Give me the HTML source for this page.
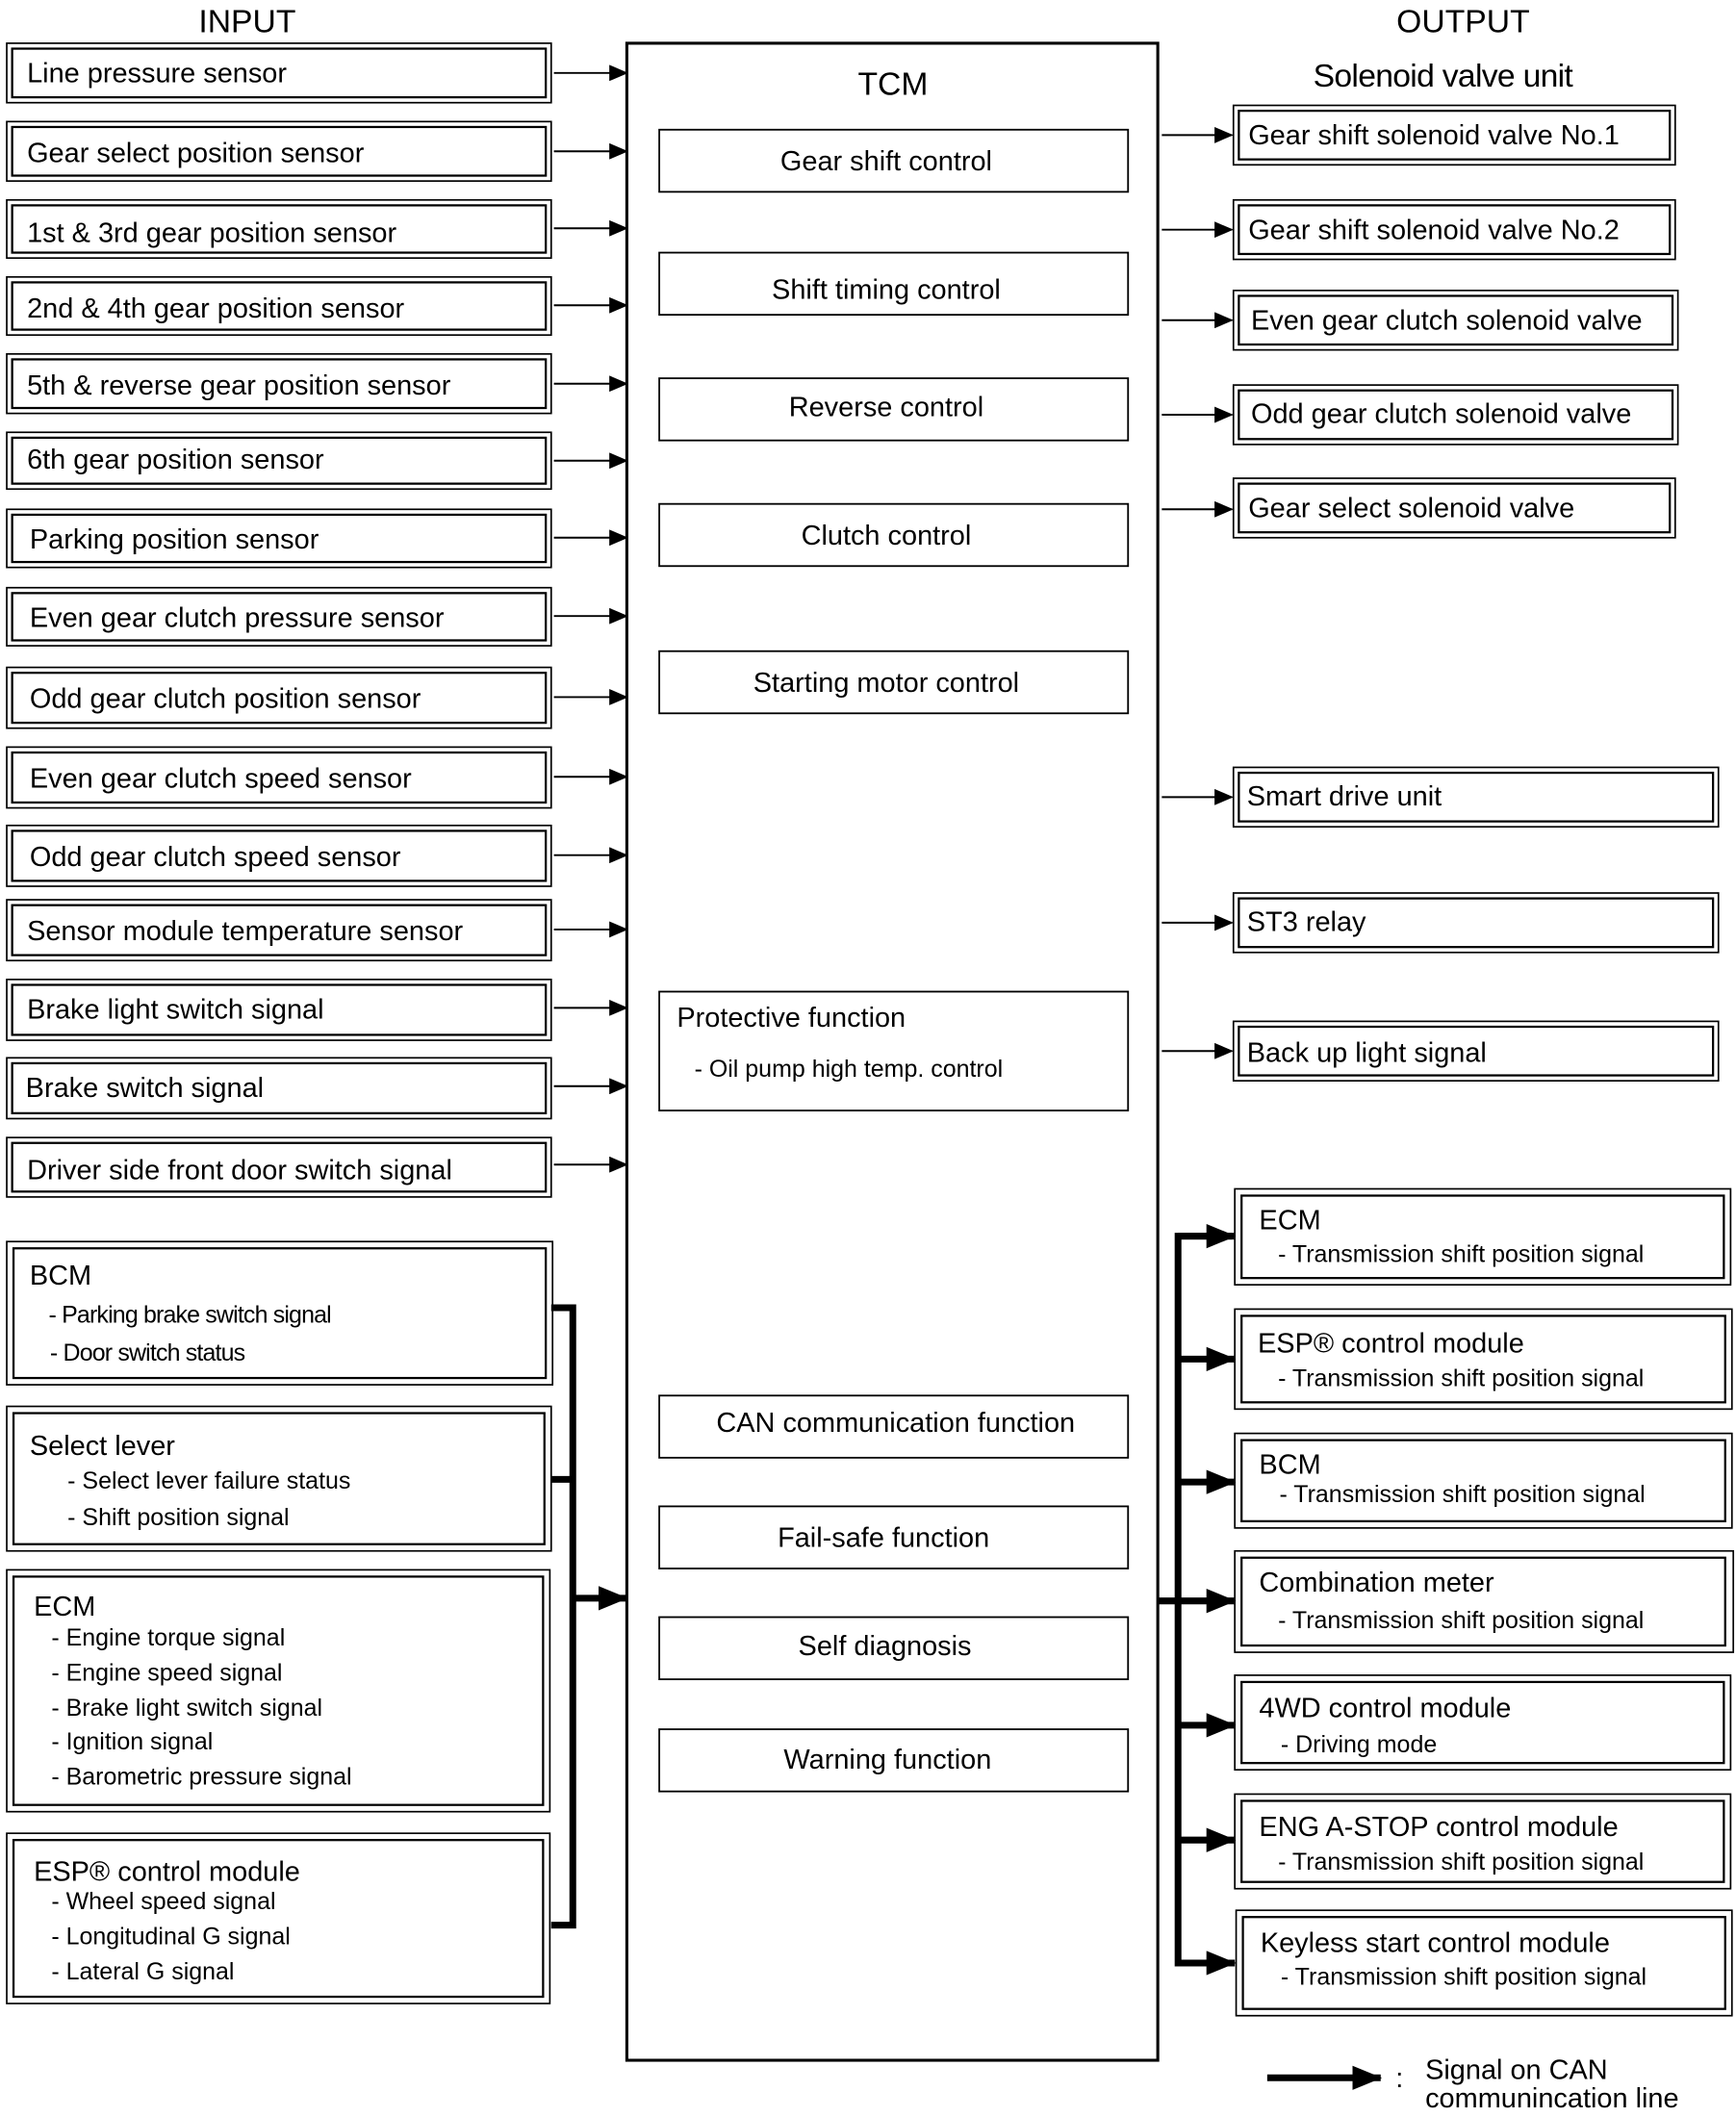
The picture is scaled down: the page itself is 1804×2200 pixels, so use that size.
<!DOCTYPE html>
<html><head><meta charset="utf-8"><style>
html,body{margin:0;padding:0;background:#fff}
svg{display:block}
text{font-family:"Liberation Sans",Arial,sans-serif;fill:#000}
.t{font-size:20.6px}
.s{font-size:17.8px}
.o{fill:none;stroke:#000;stroke-width:1.2}
.i{fill:none;stroke:#000;stroke-width:1.6}
.b{fill:none;stroke:#000;stroke-width:1.3}
.l{stroke:#000;stroke-width:1.4;fill:none}
.k{stroke:#000;stroke-width:5;fill:none}
</style></head><body>
<svg width="1804" height="2200" viewBox="0 0 1285 1567" preserveAspectRatio="none" xmlns="http://www.w3.org/2000/svg">
<defs>
<marker id="a" markerWidth="14" markerHeight="12" refX="13" refY="6" orient="auto" markerUnits="userSpaceOnUse"><path d="M0,0 L14,6 L0,12 z" fill="#000"/></marker>
<marker id="A" markerWidth="22" markerHeight="18" refX="21" refY="9" orient="auto" markerUnits="userSpaceOnUse"><path d="M0,0 L22,9 L0,18 z" fill="#000"/></marker>
</defs>
<text x="183" y="24" text-anchor="middle" style="font-size:24px">INPUT</text>
<text x="1083" y="24" text-anchor="middle" style="font-size:24px">OUTPUT</text>
<text x="1068" y="64" text-anchor="middle" style="font-size:24px;letter-spacing:-0.5px">Solenoid valve unit</text>

<g>
<rect class="o" x="5" y="32" width="403" height="44"/><rect class="i" x="9" y="36" width="395" height="36"/><text class="t" x="20" y="61">Line pressure sensor</text>
<rect class="o" x="5" y="90" width="403" height="44"/><rect class="i" x="9" y="94" width="395" height="36"/><text class="t" x="20" y="120">Gear select position sensor</text>
<rect class="o" x="5" y="148" width="403" height="43"/><rect class="i" x="9" y="152" width="395" height="35"/><text class="t" x="20" y="179">1st &amp; 3rd gear position sensor</text>
<rect class="o" x="5" y="205" width="403" height="43"/><rect class="i" x="9" y="209" width="395" height="35"/><text class="t" x="20" y="235">2nd &amp; 4th gear position sensor</text>
<rect class="o" x="5" y="262" width="403" height="44"/><rect class="i" x="9" y="266" width="395" height="36"/><text class="t" x="20" y="292">5th &amp; reverse gear position sensor</text>
<rect class="o" x="5" y="320" width="403" height="42"/><rect class="i" x="9" y="324" width="395" height="34"/><text class="t" x="20" y="347">6th gear position sensor</text>
<rect class="o" x="5" y="377" width="403" height="43"/><rect class="i" x="9" y="381" width="395" height="35"/><text class="t" x="22" y="406">Parking position sensor</text>
<rect class="o" x="5" y="435" width="403" height="43"/><rect class="i" x="9" y="439" width="395" height="35"/><text class="t" x="22" y="464">Even gear clutch pressure sensor</text>
<rect class="o" x="5" y="494" width="403" height="45"/><rect class="i" x="9" y="498" width="395" height="37"/><text class="t" x="22" y="524">Odd gear clutch position sensor</text>
<rect class="o" x="5" y="553" width="403" height="45"/><rect class="i" x="9" y="557" width="395" height="37"/><text class="t" x="22" y="583">Even gear clutch speed sensor</text>
<rect class="o" x="5" y="611" width="403" height="45"/><rect class="i" x="9" y="615" width="395" height="37"/><text class="t" x="22" y="641">Odd gear clutch speed sensor</text>
<rect class="o" x="5" y="666" width="403" height="45"/><rect class="i" x="9" y="670" width="395" height="37"/><text class="t" x="20" y="696">Sensor module temperature sensor</text>
<rect class="o" x="5" y="725" width="403" height="45"/><rect class="i" x="9" y="729" width="395" height="37"/><text class="t" x="20" y="754">Brake light switch signal</text>
<rect class="o" x="5" y="783" width="403" height="45"/><rect class="i" x="9" y="787" width="395" height="37"/><text class="t" x="19" y="812">Brake switch signal</text>
<rect class="o" x="5" y="842" width="403" height="44"/><rect class="i" x="9" y="846" width="395" height="36"/><text class="t" x="20" y="873">Driver side front door switch signal</text>
</g>
<g>
<line class="l" x1="410" y1="54" x2="464" y2="54" marker-end="url(#a)"/>
<line class="l" x1="410" y1="112" x2="464" y2="112" marker-end="url(#a)"/>
<line class="l" x1="410" y1="169" x2="464" y2="169" marker-end="url(#a)"/>
<line class="l" x1="410" y1="226" x2="464" y2="226" marker-end="url(#a)"/>
<line class="l" x1="410" y1="284" x2="464" y2="284" marker-end="url(#a)"/>
<line class="l" x1="410" y1="341" x2="464" y2="341" marker-end="url(#a)"/>
<line class="l" x1="410" y1="398" x2="464" y2="398" marker-end="url(#a)"/>
<line class="l" x1="410" y1="456" x2="464" y2="456" marker-end="url(#a)"/>
<line class="l" x1="410" y1="516" x2="464" y2="516" marker-end="url(#a)"/>
<line class="l" x1="410" y1="575" x2="464" y2="575" marker-end="url(#a)"/>
<line class="l" x1="410" y1="633" x2="464" y2="633" marker-end="url(#a)"/>
<line class="l" x1="410" y1="688" x2="464" y2="688" marker-end="url(#a)"/>
<line class="l" x1="410" y1="746" x2="464" y2="746" marker-end="url(#a)"/>
<line class="l" x1="410" y1="804" x2="464" y2="804" marker-end="url(#a)"/>
<line class="l" x1="410" y1="862" x2="464" y2="862" marker-end="url(#a)"/>
</g>

<rect class="o" x="5" y="919" width="404" height="106"/><rect class="i" x="10" y="924" width="394" height="96"/>
<text class="t" x="22" y="951">BCM</text>
<text class="s" x="36" y="979" style="letter-spacing:-0.6px">- Parking brake switch signal</text>
<text class="s" x="37" y="1007" style="letter-spacing:-0.6px">- Door switch status</text>
<rect class="o" x="5" y="1041" width="403" height="107"/><rect class="i" x="10" y="1046" width="393" height="97"/>
<text class="t" x="22" y="1077">Select lever</text>
<text class="s" x="50" y="1102">- Select lever failure status</text>
<text class="s" x="50" y="1129">- Shift position signal</text>
<rect class="o" x="5" y="1162" width="402" height="179"/><rect class="i" x="10" y="1167" width="392" height="169"/>
<text class="t" x="25" y="1196">ECM</text>
<text class="s" x="38" y="1218">- Engine torque signal</text>
<text class="s" x="38" y="1244">- Engine speed signal</text>
<text class="s" x="38" y="1270">- Brake light switch signal</text>
<text class="s" x="38" y="1295">- Ignition signal</text>
<text class="s" x="38" y="1321">- Barometric pressure signal</text>
<rect class="o" x="5" y="1357" width="402" height="126"/><rect class="i" x="10" y="1362" width="392" height="116"/>
<text class="t" x="25" y="1392">ESP® control module</text>
<text class="s" x="38" y="1413">- Wheel speed signal</text>
<text class="s" x="38" y="1439">- Longitudinal G signal</text>
<text class="s" x="38" y="1465">- Lateral G signal</text>

<polyline class="k" points="408,968 424,968 424,1425 408,1425"/>
<line class="k" x1="408" y1="1095" x2="424" y2="1095"/>
<line class="k" x1="424" y1="1183" x2="464" y2="1183" marker-end="url(#A)"/>

<rect x="464" y="32" width="393" height="1493" fill="none" stroke="#000" stroke-width="2.2"/>
<text x="661" y="70" text-anchor="middle" style="font-size:24px">TCM</text>
<g text-anchor="middle">
<rect class="b" x="488" y="96" width="347" height="46"/><text class="t" x="656" y="126">Gear shift control</text>
<rect class="b" x="488" y="187" width="347" height="46"/><text class="t" x="656" y="221">Shift timing control</text>
<rect class="b" x="488" y="280" width="347" height="46"/><text class="t" x="656" y="308">Reverse control</text>
<rect class="b" x="488" y="373" width="347" height="46"/><text class="t" x="656" y="403">Clutch control</text>
<rect class="b" x="488" y="482" width="347" height="46"/><text class="t" x="656" y="512">Starting motor control</text>
<rect class="b" x="488" y="1033" width="347" height="46"/><text class="t" x="663" y="1060">CAN communication function</text>
<rect class="b" x="488" y="1115" width="347" height="46"/><text class="t" x="654" y="1145">Fail-safe function</text>
<rect class="b" x="488" y="1197" width="347" height="46"/><text class="t" x="655" y="1225">Self diagnosis</text>
<rect class="b" x="488" y="1280" width="347" height="46"/><text class="t" x="657" y="1309">Warning function</text>
</g>
<rect class="b" x="488" y="734" width="347" height="88"/>
<text class="t" x="501" y="760">Protective function</text>
<text class="s" x="514" y="797">- Oil pump high temp. control</text>

<g>
<rect class="o" x="913" y="78" width="327" height="44"/><rect class="i" x="917" y="82" width="319" height="36"/><text class="t" x="924" y="107">Gear shift solenoid valve No.1</text>
<rect class="o" x="913" y="148" width="327" height="44"/><rect class="i" x="917" y="152" width="319" height="36"/><text class="t" x="924" y="177">Gear shift solenoid valve No.2</text>
<rect class="o" x="913" y="215" width="329" height="44"/><rect class="i" x="917" y="219" width="321" height="36"/><text class="t" x="926" y="244">Even gear clutch solenoid valve</text>
<rect class="o" x="913" y="285" width="329" height="44"/><rect class="i" x="917" y="289" width="321" height="36"/><text class="t" x="926" y="313">Odd gear clutch solenoid valve</text>
<rect class="o" x="913" y="354" width="327" height="44"/><rect class="i" x="917" y="358" width="319" height="36"/><text class="t" x="924" y="383">Gear select solenoid valve</text>
<rect class="o" x="913" y="568" width="359" height="44"/><rect class="i" x="917" y="572" width="351" height="36"/><text class="t" x="923" y="596">Smart drive unit</text>
<rect class="o" x="913" y="661" width="359" height="44"/><rect class="i" x="917" y="665" width="351" height="36"/><text class="t" x="923" y="689">ST3 relay</text>
<rect class="o" x="913" y="756" width="359" height="44"/><rect class="i" x="917" y="760" width="351" height="36"/><text class="t" x="923" y="786">Back up light signal</text>
</g>
<g>
<line class="l" x1="860" y1="100" x2="912" y2="100" marker-end="url(#a)"/>
<line class="l" x1="860" y1="170" x2="912" y2="170" marker-end="url(#a)"/>
<line class="l" x1="860" y1="237" x2="912" y2="237" marker-end="url(#a)"/>
<line class="l" x1="860" y1="307" x2="912" y2="307" marker-end="url(#a)"/>
<line class="l" x1="860" y1="377" x2="912" y2="377" marker-end="url(#a)"/>
<line class="l" x1="860" y1="590" x2="912" y2="590" marker-end="url(#a)"/>
<line class="l" x1="860" y1="683" x2="912" y2="683" marker-end="url(#a)"/>
<line class="l" x1="860" y1="778" x2="912" y2="778" marker-end="url(#a)"/>
</g>

<g>
<rect class="o" x="914" y="880" width="367" height="71"/><rect class="i" x="919" y="885" width="357" height="61"/>
<text class="t" x="932" y="910">ECM</text><text class="s" x="946" y="934">- Transmission shift position signal</text>
<rect class="o" x="914" y="969" width="368" height="74"/><rect class="i" x="919" y="974" width="358" height="64"/>
<text class="t" x="931" y="1001">ESP® control module</text><text class="s" x="946" y="1026">- Transmission shift position signal</text>
<rect class="o" x="914" y="1061" width="368" height="70"/><rect class="i" x="919" y="1066" width="358" height="60"/>
<text class="t" x="932" y="1091">BCM</text><text class="s" x="947" y="1112">- Transmission shift position signal</text>
<rect class="o" x="914" y="1148" width="369" height="75"/><rect class="i" x="919" y="1153" width="358" height="65"/>
<text class="t" x="932" y="1178">Combination meter</text><text class="s" x="946" y="1205">- Transmission shift position signal</text>
<rect class="o" x="914" y="1240" width="367" height="70"/><rect class="i" x="919" y="1245" width="357" height="60"/>
<text class="t" x="932" y="1271">4WD control module</text><text class="s" x="948" y="1297">- Driving mode</text>
<rect class="o" x="914" y="1328" width="367" height="70"/><rect class="i" x="919" y="1333" width="357" height="60"/>
<text class="t" x="932" y="1359">ENG A-STOP control module</text><text class="s" x="946" y="1384">- Transmission shift position signal</text>
<rect class="o" x="915" y="1414" width="367" height="78"/><rect class="i" x="920" y="1419" width="357" height="68"/>
<text class="t" x="933" y="1445">Keyless start control module</text><text class="s" x="948" y="1469">- Transmission shift position signal</text>
</g>
<polyline class="k" points="912,915 872,915 872,1453 912,1453"/>
<line class="k" x1="857" y1="1185" x2="872" y2="1185"/>
<g>
<line class="k" x1="872" y1="915" x2="914" y2="915" marker-end="url(#A)"/>
<line class="k" x1="872" y1="1006" x2="914" y2="1006" marker-end="url(#A)"/>
<line class="k" x1="872" y1="1097" x2="914" y2="1097" marker-end="url(#A)"/>
<line class="k" x1="872" y1="1185" x2="914" y2="1185" marker-end="url(#A)"/>
<line class="k" x1="872" y1="1277" x2="914" y2="1277" marker-end="url(#A)"/>
<line class="k" x1="872" y1="1362" x2="914" y2="1362" marker-end="url(#A)"/>
<line class="k" x1="872" y1="1453" x2="914" y2="1453" marker-end="url(#A)"/>
</g>

<line class="k" x1="938" y1="1538" x2="1022" y2="1538" marker-end="url(#A)"/>
<text class="t" x="1033" y="1545">:</text>
<text class="t" x="1055" y="1539">Signal on CAN</text>
<text class="t" x="1055" y="1560">communincation line</text>
</svg>
</body></html>
